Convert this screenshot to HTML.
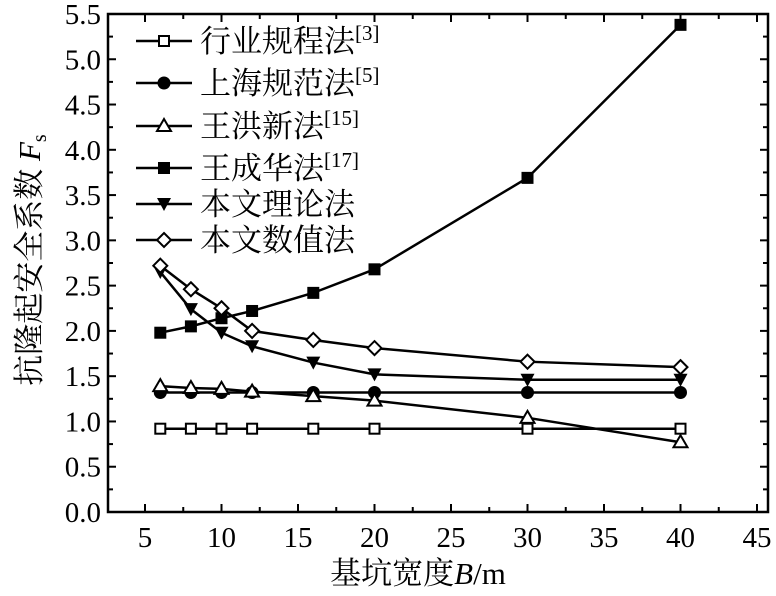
<!DOCTYPE html>
<html><head><meta charset="utf-8"><style>
body{margin:0;background:#fff}
svg{display:block}
text{font-family:"Liberation Serif","Noto Serif CJK SC",serif;fill:#000}
</style></head><body>
<svg id="s" width="776" height="596" xmlns="http://www.w3.org/2000/svg"></svg>
<script>
const s=document.getElementById('s');
const L=108,R=768,T=14,B=512;
const X=v=>145+(v-5)*15.3, Y=v=>512-v*90.55;
let h='';
h+=`<rect x="${L}" y="${T}" width="${R-L}" height="${B-T}" fill="none" stroke="#000" stroke-width="2.5"/>`;
for(let v=0;v<=5.5001;v+=0.25){const y=Y(v);const maj=Math.abs(v*2-Math.round(v*2))<1e-6;const l=maj?8:5;
h+=`<line x1="${L}" y1="${y}" x2="${L+l}" y2="${y}" stroke="#000" stroke-width="2"/><line x1="${R}" y1="${y}" x2="${R-l}" y2="${y}" stroke="#000" stroke-width="2"/>`;
if(maj)h+=`<text x="${L-7}" y="${y+10}" font-size="29" text-anchor="end">${v.toFixed(1)}</text>`;}
for(let v=5;v<=45.01;v+=2.5){const x=X(v);const maj=v%5==0;const l=maj?8:5;
h+=`<line x1="${x}" y1="${B}" x2="${x}" y2="${B-l}" stroke="#000" stroke-width="2"/><line x1="${x}" y1="${T}" x2="${x}" y2="${T+l}" stroke="#000" stroke-width="2"/>`;
if(maj)h+=`<text x="${x}" y="${B+35}" font-size="29" text-anchor="middle">${v}</text>`;}
const xs=[6,8,10,12,16,20,30,40];
const series=[
['sqo',[.92,.92,.92,.92,.92,.92,.92,.92]],
['cir',[1.32,1.32,1.32,1.32,1.32,1.32,1.32,1.32]],
['tri',[1.39,1.37,1.36,1.33,1.28,1.23,1.04,.77]],
['sqf',[1.98,2.05,2.14,2.22,2.42,2.68,3.69,5.38]],
['dn',[2.65,2.24,1.98,1.83,1.65,1.52,1.46,1.46]],
['dia',[2.72,2.46,2.25,2.00,1.90,1.81,1.66,1.60]]];
function mk(t,x,y){
 switch(t){
 case 'sqo':return `<rect x="${x-5}" y="${y-5}" width="10" height="10" fill="#fff" stroke="#000" stroke-width="2"/>`;
 case 'sqf':return `<rect x="${x-6}" y="${y-6}" width="12" height="12" fill="#000"/>`;
 case 'cir':return `<circle cx="${x}" cy="${y}" r="6.5" fill="#000"/>`;
 case 'tri':return `<polygon points="${x},${y-7} ${x-7},${y+5} ${x+7},${y+5}" fill="#fff" stroke="#000" stroke-width="2"/>`;
 case 'dn':return `<polygon points="${x-7},${y-6} ${x+7},${y-6} ${x},${y+7}" fill="#000"/>`;
 case 'dia':return `<polygon points="${x},${y-7} ${x+7},${y} ${x},${y+7} ${x-7},${y}" fill="#fff" stroke="#000" stroke-width="2"/>`;}
}
for(const [t,d] of series){
 h+=`<polyline fill="none" stroke="#000" stroke-width="2.5" points="${xs.map((v,i)=>X(v)+','+Y(d[i])).join(' ')}"/>`;
 xs.forEach((v,i)=>h+=mk(t,X(v),Y(d[i])));
}
const names=['行业规程法<tspan font-size="21" dy="-12">[3]</tspan>','上海规范法<tspan font-size="21" dy="-12">[5]</tspan>','王洪新法<tspan font-size="21" dy="-12">[15]</tspan>','王成华法<tspan font-size="21" dy="-12">[17]</tspan>','本文理论法','本文数值法'];
const ly=[41,83,126,168,204,240];
series.forEach(([t],i)=>{const y=ly[i];
 h+=`<line x1="136" y1="${y}" x2="192" y2="${y}" stroke="#000" stroke-width="2.5"/>`+mk(t,164,y);
 h+=`<text x="200" y="${y+11}" font-size="31">${names[i]}</text>`;});
h+=`<text x="418" y="584" font-size="31" text-anchor="middle">基坑宽度<tspan font-style="italic">B</tspan>/m</text>`;
h+=`<text transform="translate(40,260) rotate(-90)" font-size="31" text-anchor="middle">抗隆起安全系数 <tspan font-style="italic">F</tspan><tspan font-size="20" dy="6">s</tspan></text>`;
s.innerHTML=h;
</script>
</body></html>
